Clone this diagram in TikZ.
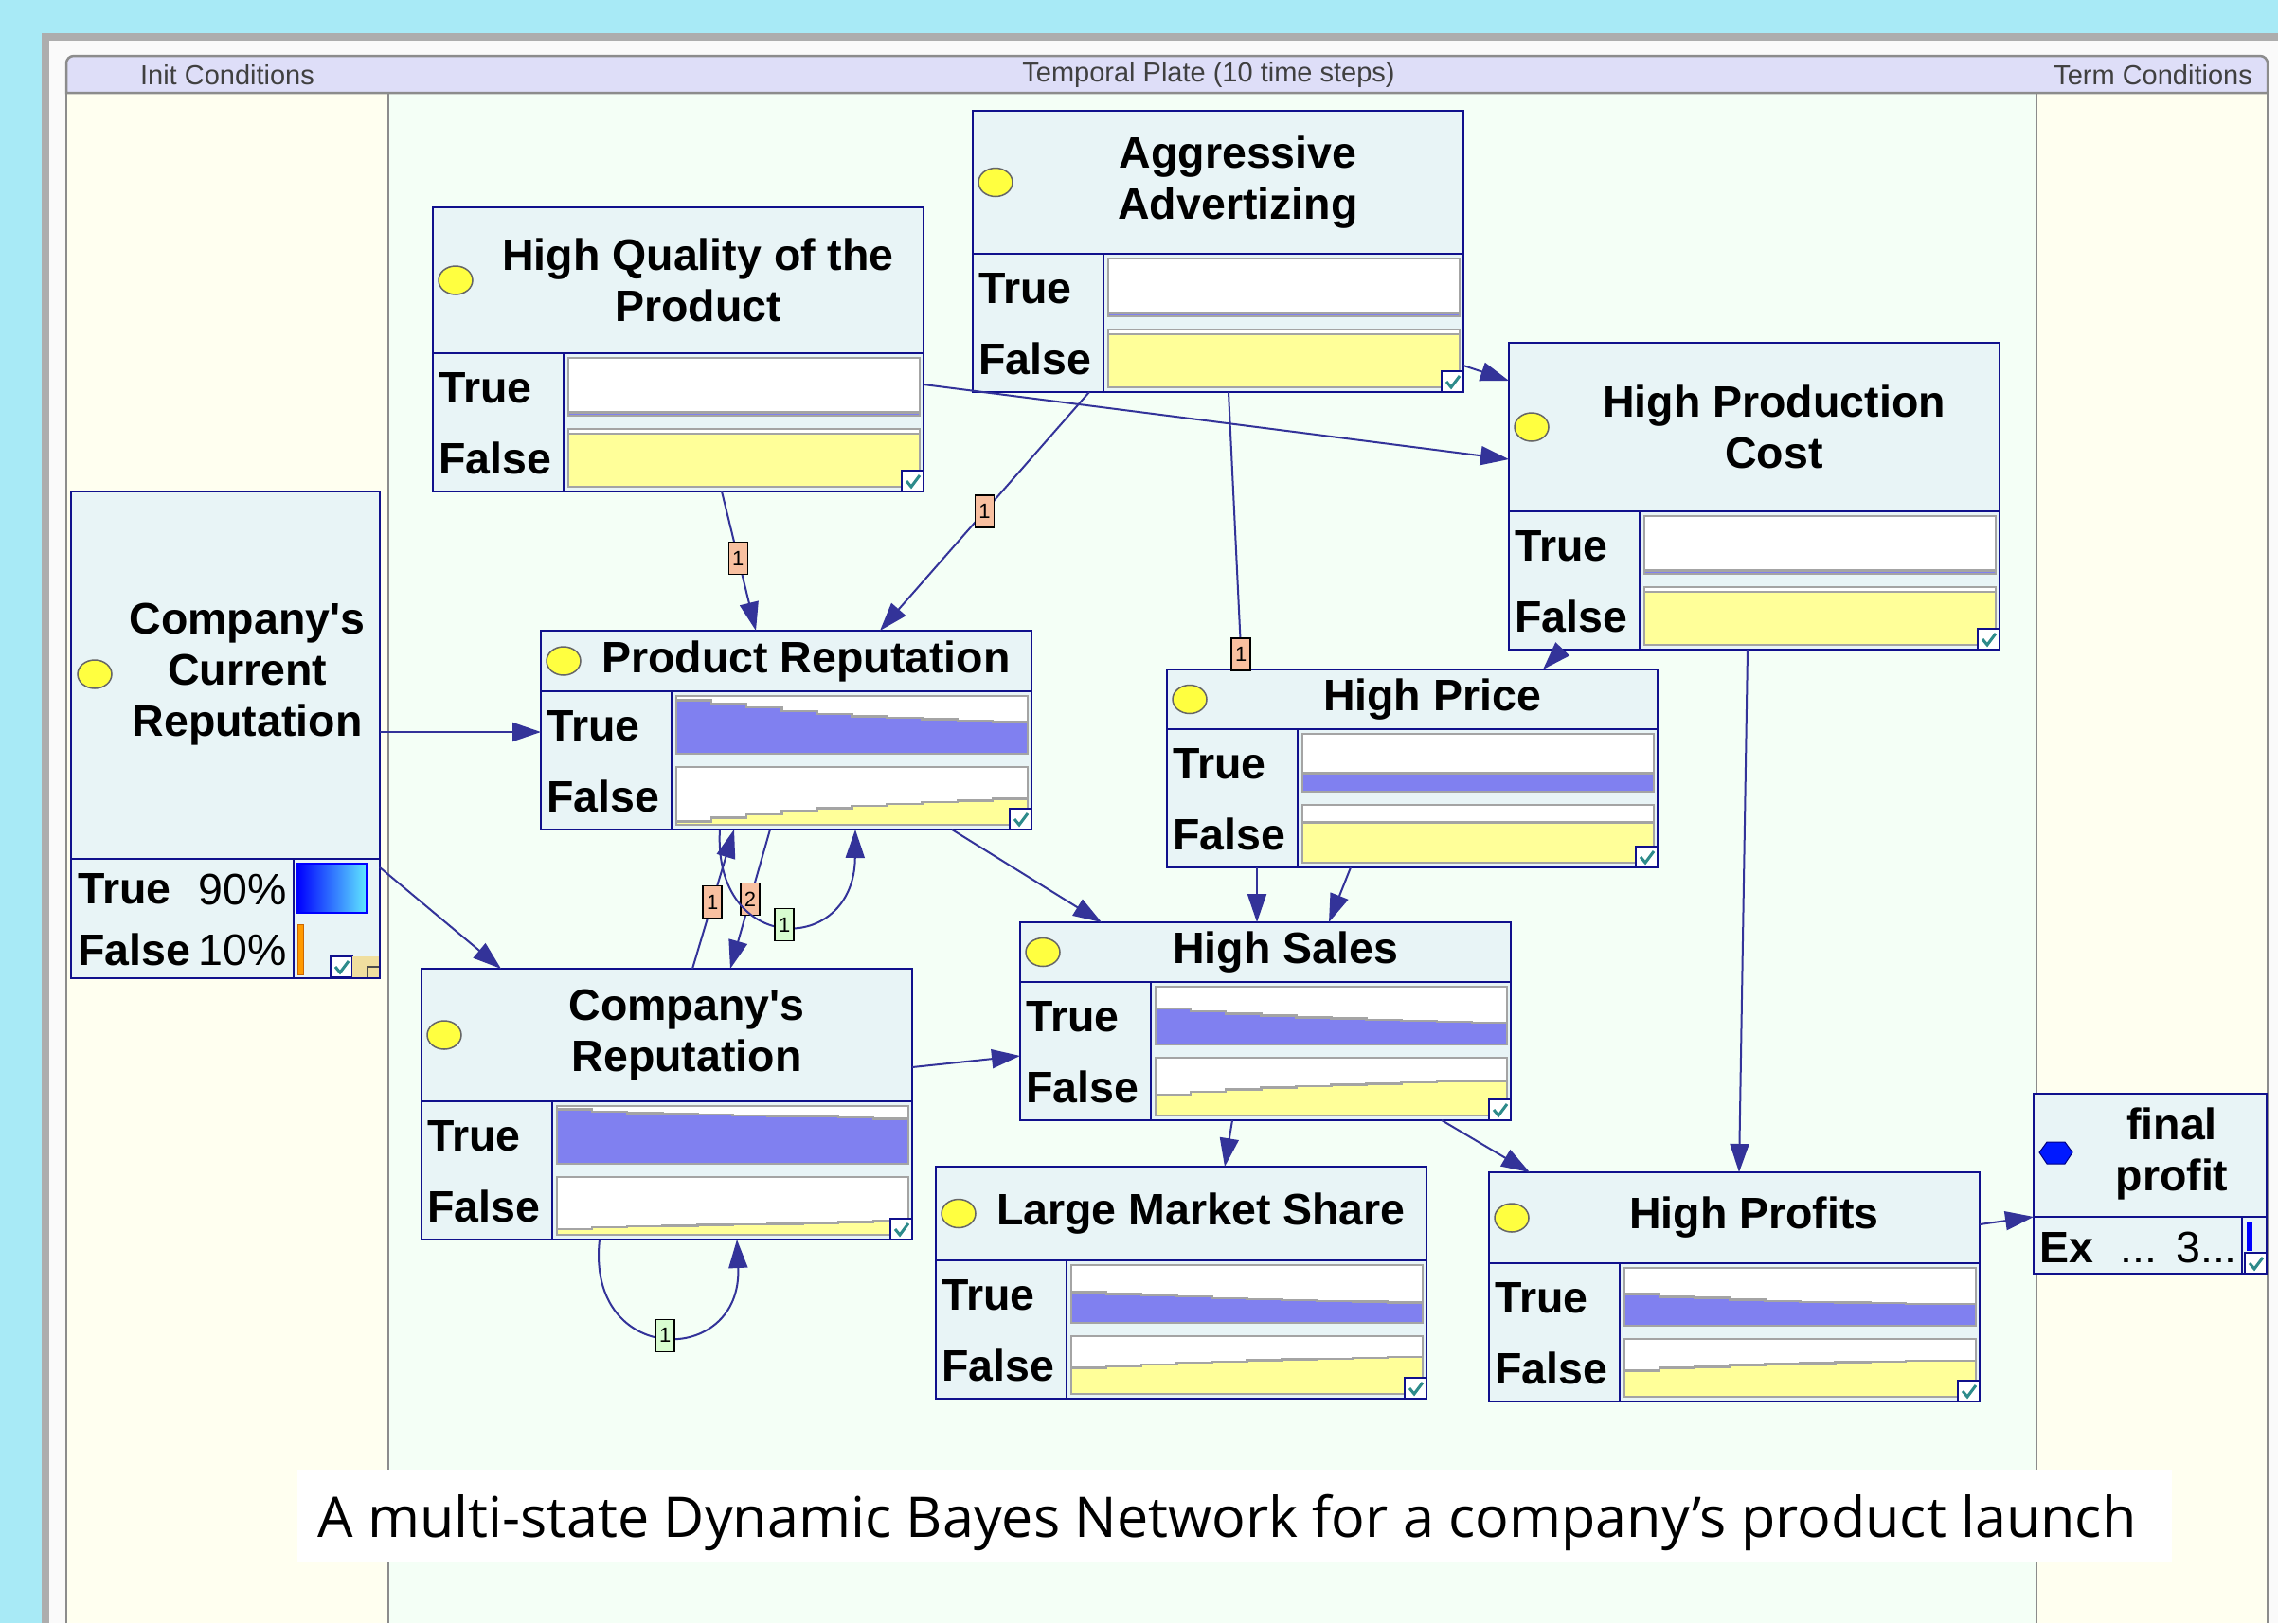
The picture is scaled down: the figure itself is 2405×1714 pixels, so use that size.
\documentclass[tikz,border=0pt]{standalone}
\usepackage{fontspec}
\setmainfont{Liberation Sans}
\newfontfamily\captionfont{Open Sans}
\usetikzlibrary{arrows.meta, calc, shapes.geometric}

\definecolor{skycyan}{HTML}{A8EAF6}
\definecolor{framegray}{HTML}{ADADAD}
\definecolor{plategray}{HTML}{8C8C8C}
\definecolor{headerlav}{HTML}{DEDEF8}
\definecolor{condcream}{HTML}{FFFFF0}
\definecolor{platemint}{HTML}{F4FFF6}
\definecolor{nodefill}{HTML}{E8F4F6}
\definecolor{nodenavy}{HTML}{10108C}
\definecolor{connblue}{HTML}{333399}
\definecolor{trueblue}{HTML}{8080F0}
\definecolor{falseyellow}{HTML}{FFFF99}
\definecolor{chartgray}{HTML}{A4A4A4}
\definecolor{dotyellow}{HTML}{FFFF40}
\definecolor{labelorange}{HTML}{F8C0A0}
\definecolor{labelgreen}{HTML}{D8FCD0}
\definecolor{checkteal}{HTML}{2E8B8B}
\definecolor{gradblue}{HTML}{0000FF}
\definecolor{gradcyan}{HTML}{60E8FF}

% one belief chart: left, top, colour, ten values
\newcommand{\chart}[4]{%
  \fill[white] (#1,{#2}) rectangle ++(371,61);
  \fill[#3] (#1,{#2+61})
    \foreach \v [count=\i from 0] in {#4} {
      -- ({#1+\i*37.1},{#2+61-\v*61}) -- ({#1+(\i+1)*37.1},{#2+61-\v*61})}
    -- ({#1+371},{#2+61}) -- cycle;
  \draw[chartedge] (#1,{#2+61})
    \foreach \v [count=\i from 0] in {#4} {
      -- ({#1+\i*37.1},{#2+61-\v*61}) -- ({#1+(\i+1)*37.1},{#2+61-\v*61})};
  \draw[chartedge] (#1,{#2}) rectangle ++(371,61);
}

% little check box
\newcommand{\okbox}[2]{%
  \draw[fill=white, draw=nodenavy, line width=1.5pt] (#1,{#2}) rectangle ++(23,22);
  \draw[checkteal, line width=3pt] ({#1+5},{#2+11}) -- ({#1+10},{#2+17}) -- ({#1+19},{#2+5});
}

% network node: name, x, y, title height, title, true values, false values
\newcommand{\bnnode}[7]{%
  \begin{scope}[shift={(#2,#3)}]
    \node[bnbox, minimum height={#4+146}, anchor=north west] (#1) at (0,0) {};
    \draw[bnline] (0,{#4}) -- (518,{#4}) (138,{#4}) -- (138,{#4+146});
    \node[yellowdot] (#1-dot) at (24,{#4/2}) {};
    \node[nodetitle] (#1-title) at (280,{#4/2}) {#5};
    \node[statelab] (#1-true) at (6,{#4+37}) {True};
    \node[statelab] (#1-false) at (6,{#4+111}) {False};
    \chart{143}{#4+5}{trueblue}{#6}
    \chart{143}{#4+80}{falseyellow}{#7}
    \okbox{495}{#4+124}
  \end{scope}}

\begin{document}
\begin{tikzpicture}[x=1pt, y=-1pt,
    bnbox/.style={draw=nodenavy, line width=2.5pt, fill=nodefill, minimum width=518, inner sep=0pt, outer sep=0pt},
    bnline/.style={draw=nodenavy, line width=2.5pt},
    yellowdot/.style={ellipse, draw=black!60, fill=dotyellow, line width=1.5pt, minimum width=36, minimum height=30, inner sep=0pt},
    nodetitle/.style={align=center, inner sep=0pt, font=\bfseries\fontsize{46.5}{54}\selectfont},
    statelab/.style={anchor=west, inner sep=0pt, font=\bfseries\fontsize{46.5}{54}\selectfont},
    chartedge/.style={draw=chartgray, line width=2.5pt},
    conn/.style={draw=connblue, line width=2pt, -{Triangle[length=30pt, width=20pt]}},
    orangelab/.style={draw=black, line width=1.5pt, fill=labelorange, minimum width=20, minimum height=34, inner sep=0pt, font=\fontsize{22}{22}\selectfont},
    greenlab/.style={orangelab, fill=labelgreen},
    plateline/.style={draw=plategray, line width=2.5pt},
    platelabel/.style={inner sep=0pt, text=black!75, font=\fontsize{29}{29}\selectfont}
]
\useasboundingbox (0,0) rectangle (2405,1714);

% window and plate
\fill[skycyan] (0,0) rectangle (2405,1714);
\fill[framegray] (44,35) rectangle (2405,1714);
\fill[white!98!black] (52,43) rectangle (2405,1714);
\fill[condcream] (70,98) rectangle (410,1714);
\fill[platemint] (410,98) rectangle (2150,1714);
\fill[condcream] (2150,98) rectangle (2394,1714);
\draw[plateline] (70,1714) -- (70,98) (410,98) -- (410,1714)
    (2150,98) -- (2150,1714) (2394,98) -- (2394,1714);
\draw[plateline, fill=headerlav] (70,98) [rounded corners=8] -- (70,59) -- (2394,59) [sharp corners] -- (2394,98) -- cycle;
\node[platelabel] (initlab) at (240,79) {Init Conditions};
\node[platelabel] (platelab) at (1276,79) {Temporal Plate (10 time steps)};
\node[platelabel, anchor=east] (termlab) at (2378,79) {Term Conditions};

% init node
\node[bnbox, minimum width=326, minimum height=514, anchor=north west] (CCR) at (75,519) {};
\draw[bnline] (75,907) -- (401,907) (310,907) -- (310,1033);
\node[yellowdot] (CCR-dot) at (100,712) {};
\node[nodetitle] (CCR-title) at (261,712) {Company\textquotesingle s\\Current\\Reputation};
\node[statelab] (CCR-true) at (82,939) {True};
\node[statelab, anchor=east, font=\fontsize{46.5}{54}\selectfont] (CCR-tp) at (303,939) {90\%};
\node[statelab] (CCR-false) at (82,1003) {False};
\node[statelab, anchor=east, font=\fontsize{46.5}{54}\selectfont] (CCR-fp) at (303,1003) {10\%};
\shade[left color=gradblue, right color=gradcyan] (314,912) rectangle (387,964);
\draw[blue, line width=2pt] (314,912) rectangle (387,964);
\draw[fill=orange!80!yellow, draw=orange!80!black, line width=1pt] (314,976) rectangle (320,1029);
\okbox{349}{1010}
\fill[yellow!45!brown!45!white] (372,1010) rectangle (400,1032);
\draw[black!70, line width=1.5pt] (388,1032) -- (388,1021) -- (400,1021);

% temporal nodes
\bnnode{HQ}{457}{219}{154}{High Quality of the\\Product}
  {0.06,0.06,0.06,0.06,0.06,0.06,0.06,0.06,0.06,0.06}
  {0.92,0.92,0.92,0.92,0.92,0.92,0.92,0.92,0.92,0.92}
\bnnode{AA}{1027}{117}{151}{Aggressive\\Advertizing}
  {0.06,0.06,0.06,0.06,0.06,0.06,0.06,0.06,0.06,0.06}
  {0.92,0.92,0.92,0.92,0.92,0.92,0.92,0.92,0.92,0.92}
\bnnode{HPC}{1593}{362}{178}{High Production\\Cost}
  {0.06,0.06,0.06,0.06,0.06,0.06,0.06,0.06,0.06,0.06}
  {0.92,0.92,0.92,0.92,0.92,0.92,0.92,0.92,0.92,0.92}
\bnnode{PR}{571}{666}{64}{Product Reputation}
  {0.93,0.86,0.8,0.74,0.69,0.65,0.62,0.6,0.57,0.55}
  {0.06,0.12,0.18,0.24,0.29,0.33,0.36,0.39,0.42,0.45}
\bnnode{HP}{1232}{707}{63}{High Price}
  {0.32,0.32,0.32,0.32,0.32,0.32,0.32,0.32,0.32,0.32}
  {0.7,0.7,0.7,0.7,0.7,0.7,0.7,0.7,0.7,0.7}
\bnnode{HS}{1077}{974}{63}{High Sales}
  {0.62,0.57,0.53,0.5,0.47,0.45,0.43,0.41,0.39,0.38}
  {0.36,0.41,0.45,0.48,0.51,0.53,0.55,0.57,0.59,0.6}
\bnnode{CR}{445}{1023}{140}{Company\textquotesingle s\\Reputation}
  {0.94,0.9,0.88,0.86,0.85,0.84,0.83,0.82,0.8,0.78}
  {0.1,0.13,0.15,0.16,0.17,0.18,0.19,0.2,0.22,0.24}
\bnnode{LMS}{988}{1232}{99}{Large Market Share}
  {0.53,0.5,0.48,0.46,0.43,0.41,0.39,0.38,0.37,0.35}
  {0.45,0.48,0.51,0.54,0.56,0.58,0.6,0.61,0.62,0.64}
\bnnode{HPr}{1572}{1238}{96}{High Profits}
  {0.55,0.5,0.48,0.45,0.43,0.41,0.4,0.39,0.38,0.38}
  {0.45,0.5,0.52,0.55,0.57,0.58,0.6,0.61,0.62,0.62}

% term node
\node[bnbox, minimum width=246, minimum height=190, anchor=north west] (FP) at (2147,1155) {};
\draw[bnline] (2147,1285) -- (2393,1285) (2367,1285) -- (2367,1345);
\draw[fill=blue!90!cyan, draw=blue!50!black, line width=1pt] (2153,1217) -- (2161,1206) -- (2180,1206)
    -- (2188,1217) -- (2180,1229) -- (2161,1229) -- cycle;
\node[nodetitle] (FP-title) at (2293,1218) {final\\profit};
\node[statelab, anchor=base west] (FP-ex) at (2153,1333) {Ex};
\node[statelab, anchor=base west, font=\fontsize{46.5}{54}\selectfont] (FP-dots) at (2238,1333) {...};
\node[statelab, anchor=base west, font=\fontsize{46.5}{54}\selectfont] (FP-val) at (2297,1333) {3...};
\fill[blue] (2372,1290) rectangle (2378,1321);
\okbox{2370}{1323}

% arcs
\draw[conn] ($(HQ.south west)+(305,0)$) -- node[orangelab, pos=0.48] (hqpr) {1} ($(PR.north west)+(227,0)$);
\draw[conn] ($(AA.south west)+(123,0)$) -- node[orangelab] (aapr) {1} ($(PR.north west)+(358,0)$);
\draw[conn] ($(HQ.north east)+(0,187)$) -- ($(HPC.north west)+(0,123)$);
\draw[conn] ($(AA.north east)+(0,269)$) -- ($(HPC.north west)+(0,40)$);
\draw[conn] ($(AA.south west)+(270,0)$) -- node[orangelab, pos=0.945] (aahp) {1} ($(HP.north west)+(79,0)$);
\draw[conn] ($(HPC.south west)+(56,0)$) -- ($(HP.north west)+(397,0)$);
\draw[conn] ($(HPC.south west)+(252,0)$) -- ($(HPr.north west)+(264,0)$);
\draw[conn] ($(CCR.north east)+(0,254)$) -- ($(PR.north west)+(0,107)$);
\draw[conn] ($(CCR.north east)+(0,397)$) -- ($(CR.north west)+(84,0)$);
\draw[conn] ($(PR.south west)+(434,0)$) -- ($(HS.north west)+(86,0)$);
\draw[conn] ($(HP.south west)+(95,0)$) -- ($(HS.north west)+(250,0)$);
\draw[conn] ($(HP.south west)+(194,0)$) -- ($(HS.north west)+(326,0)$);
\draw[conn] ($(CR.north east)+(0,104)$) -- ($(HS.north west)+(0,141)$);
\draw[conn] ($(HS.south west)+(224,0)$) -- ($(LMS.north west)+(305,0)$);
\draw[conn] ($(HS.south west)+(445,0)$) -- ($(HPr.north west)+(43,0)$);
\draw[conn] ($(HPr.north east)+(0,55)$) -- ($(FP.north west)+(0,130)$);
\draw[conn] ($(CR.north west)+(286,0)$) -- node[orangelab, pos=0.48] (crpr) {1} ($(PR.south west)+(204,0)$);
\draw[conn] ($(PR.south west)+(242,0)$) -- node[orangelab, pos=0.5] (prcr) {2} ($(CR.north west)+(326,0)$);
\draw[conn] ($(PR.south west)+(189,0)$) .. controls (752,1010) and (902,1010) .. node[greenlab] (prloop) {1} ($(PR.south west)+(332,0)$);
\draw[conn] ($(CR.south west)+(188,0)$) .. controls (618,1444) and (784,1444) .. node[greenlab] (crloop) {1} ($(CR.south west)+(333,0)$);

% caption
\fill[white] (314,1552) rectangle (2293,1650);
\node[anchor=base west, inner sep=0pt, font=\captionfont\fontsize{59.2}{70}\selectfont] (caption) at (335,1623)
    {A multi-state Dynamic Bayes Network for a company’s product launch};
\end{tikzpicture}
\end{document}
